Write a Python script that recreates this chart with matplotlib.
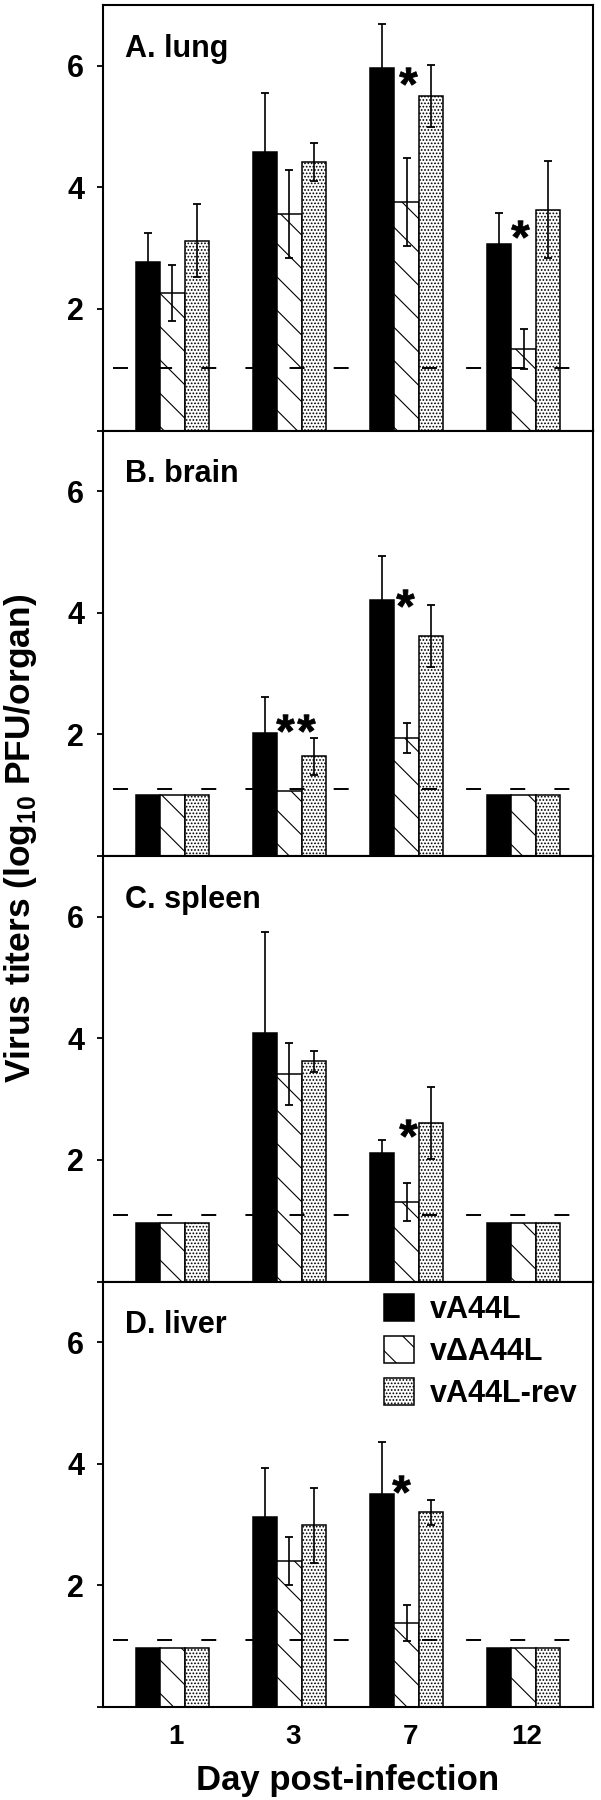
import numpy as np
import matplotlib.pyplot as plt

plt.rcParams['font.family'] = ['Liberation Sans', 'DejaVu Sans']
plt.rcParams['font.weight'] = 'bold'
plt.rcParams['mathtext.fontset'] = 'custom'
plt.rcParams['mathtext.rm'] = 'Liberation Sans:bold'
plt.rcParams['mathtext.bf'] = 'Liberation Sans:bold'
plt.rcParams['hatch.linewidth'] = 0.8

days = ['1', '3', '7', '12']
series = ['vA44L', 'v\u0394A44L', 'vA44L-rev']
organs = ['A. lung', 'B. brain', 'C. spleen', 'D. liver']

# mean virus titers, log10 PFU/organ (days 1, 3, 7, 12)
lung_wt = [2.77, 4.58, 5.96, 3.06]
lung_del = [2.26, 3.56, 3.76, 1.34]
lung_rev = [3.12, 4.42, 5.51, 3.63]
brain_wt = [1.0, 2.02, 4.21, 1.0]
brain_del = [1.0, 1.07, 1.94, 1.0]
brain_rev = [1.0, 1.64, 3.62, 1.0]
spleen_wt = [0.97, 4.09, 2.11, 0.97]
spleen_del = [0.97, 3.41, 1.31, 0.97]
spleen_rev = [0.97, 3.62, 2.61, 0.97]
liver_wt = [0.97, 3.12, 3.51, 0.97]
liver_del = [0.97, 2.40, 1.38, 0.97]
liver_rev = [0.97, 2.99, 3.20, 0.97]

# standard deviations (nan = no error bar)
nan = np.nan
lung_wt_err = [0.48, 0.98, 0.72, 0.52]
lung_del_err = [0.46, 0.72, 0.72, 0.33]
lung_rev_err = [0.60, 0.31, 0.51, 0.80]
brain_wt_err = [nan, 0.60, 0.73, nan]
brain_del_err = [nan, nan, 0.25, nan]
brain_rev_err = [nan, 0.30, 0.51, nan]
spleen_wt_err = [nan, 1.66, 0.22, nan]
spleen_del_err = [nan, 0.51, 0.31, nan]
spleen_rev_err = [nan, 0.18, 0.59, nan]
liver_wt_err = [nan, 0.81, 0.85, nan]
liver_del_err = [nan, 0.39, 0.30, nan]
liver_rev_err = [nan, 0.62, 0.20, nan]

# detection limit
detect_limit = [1.02, 1.10, 1.10, 1.10]

# significance asterisks (x in day-index units, y in log10 units)
star_x = [[1.98, 2.94], [0.93, 1.11, 1.96], [1.98], [1.92]]
star_y = [[5.84, 3.32], [2.18, 2.18, 4.25], [2.52], [3.67]]

means = [[lung_wt, lung_del, lung_rev], [brain_wt, brain_del, brain_rev],
         [spleen_wt, spleen_del, spleen_rev], [liver_wt, liver_del, liver_rev]]
errs = [[lung_wt_err, lung_del_err, lung_rev_err],
        [brain_wt_err, brain_del_err, brain_rev_err],
        [spleen_wt_err, spleen_del_err, spleen_rev_err],
        [liver_wt_err, liver_del_err, liver_rev_err]]

styles = [dict(color='black', edgecolor='black', hatch=None),
          dict(color='white', edgecolor='black', hatch='\\'),
          dict(color='white', edgecolor='black', hatch='.....')]

W, H = 601, 1800
left, right, top, bot = 103, 593, 5, 1707
ph = (bot - top) / 4

fig = plt.figure(figsize=(W / 100, H / 100), dpi=100)
x = np.arange(len(days))
width = 0.21

for i in range(4):
    ax = fig.add_axes([left / W, 1 - (top + ph * (i + 1)) / H,
                       (right - left) / W, ph / H])
    handles = []
    for j in range(3):
        xp = x - 0.03 + (j - 1) * width
        b = ax.bar(xp, means[i][j], width, linewidth=1.1, label=series[j],
                   zorder=2, **styles[j])
        handles.append(b)
        e = np.array(errs[i][j], dtype=float)
        m = np.isfinite(e)
        ax.errorbar(xp[m], np.array(means[i][j])[m], yerr=e[m], fmt='none',
                    ecolor='black', elinewidth=1.2, capsize=3, capthick=1.3,
                    zorder=4)
    ax.axhline(detect_limit[i], xmin=0.02, xmax=0.98, color='black', lw=1.4,
               dashes=(7.7, 15), zorder=3)
    ax.plot(star_x[i], star_y[i], linestyle='none', marker=r'$\mathbf{*}$',
            ms=13, color='black', mew=0.6, zorder=5)
    ax.text(0.044, 6.15, organs[i], transform=ax.get_yaxis_transform(),
            fontsize=22, fontweight='bold', va='baseline')

    ax.set_xlim(-0.624, 3.564)
    ax.set_ylim(0, 7)
    ax.set_yticks([0, 2, 4, 6])
    ax.set_yticklabels(['', '2', '4', '6'])
    ax.tick_params(axis='y', direction='out', length=4.5, width=1.3,
                   labelsize=22, pad=9)
    ax.set_xticks(x)
    if i == 3:
        ax.set_xticklabels(days)
        ax.tick_params(axis='x', length=0, labelsize=20, pad=12)
        ax.legend(handles=handles, loc='upper left', bbox_to_anchor=(0.573, 0.971),
                  frameon=False, fontsize=22, handlelength=1.0,
                  handleheight=1.0, handletextpad=0.5, labelspacing=0.36,
                  borderpad=0, borderaxespad=0)
    else:
        ax.set_xticklabels([])
        ax.tick_params(axis='x', length=0)
    for s in ax.spines.values():
        s.set_linewidth(1.5)

fig.text(348 / W, 1 - 1790 / H, 'Day post-infection', ha='center',
         va='baseline', fontsize=25, fontweight='bold')
fig.text(21 / W, 1 - 838 / H, r'Virus titers (log$_{\mathbf{10}}$ PFU/organ)',
         rotation=90, ha='center', va='center', fontsize=25.5, fontweight='bold')

fig.savefig('out.png', dpi=100)
